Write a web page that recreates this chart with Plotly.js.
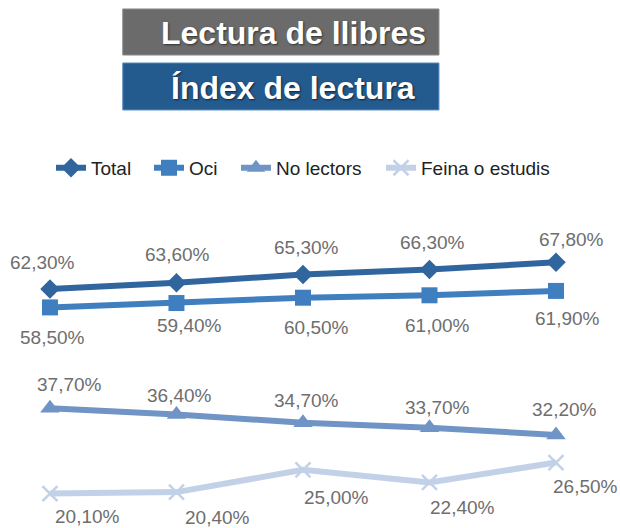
<!DOCTYPE html>
<html>
<head>
<meta charset="utf-8">
<script src="https://cdn.plot.ly/plotly-3.0.1.min.js"></script>
<style>html,body{margin:0;padding:0;background:#fff;}#chart{width:620px;height:528px;}</style>
</head>
<body>
<div id="chart"></div>
<script>
// Data
const periods = [0, 1, 2, 3, 4];
const seriesNames = ["Total", "Oci", "No lectors", "Feina o estudis"];
const total = [62.3, 63.6, 65.3, 66.3, 67.8];
const oci = [58.5, 59.4, 60.5, 61.0, 61.9];
const noLectors = [37.7, 36.4, 34.7, 33.7, 32.2];
const feina = [20.1, 20.4, 25.0, 22.4, 26.5];
const titleTop = "Lectura de llibres";
const titleBottom = "Índex de lectura";

// Styles
const colors = ["#31659d", "#3f7fc0", "#7094c6", "#c3d1e8"];
const symbols = ["diamond", "square", "triangle-up", "x-thin"];
const sizes = [15, 16, 17, 15];
// label nudges in pixels (dx, dy; dy positive = downwards)
const labelDx = [[-7, 1, 4, 3, 16], [3, 13, 14, 8, 12], [20, 3, 4, 8, 9], [38, 41, 34, 33, 30]];
const labelDy = [[-26, -28, -27, -27, -23], [30, 22, 30, 30, 28], [-24, -19, -22, -20, -25], [23, 25, 28, 25, 24]];
const legendIds = ['legend', 'legend2', 'legend3', 'legend4'];
const legendX = [0.0823, 0.2403, 0.3806, 0.6145];
const allSeries = [total, oci, noLectors, feina];

function fmt(v) { return v.toFixed(2).replace('.', ',') + '%'; }

const traces = allSeries.map((vals, i) => ({
  type: 'scatter', mode: 'lines+markers', name: seriesNames[i],
  x: periods, y: vals, legend: legendIds[i],
  line: {color: colors[i], width: 6},
  marker: {symbol: symbols[i], size: sizes[i], color: colors[i],
           line: {color: colors[i], width: i === 3 ? 2.5 : 0}},
  hoverinfo: 'skip'
}));

const annotations = [];
allSeries.forEach((vals, i) => {
  vals.forEach((v, j) => {
    annotations.push({
      x: periods[j], y: v, xref: 'x', yref: 'y', text: fmt(v), showarrow: false,
      xshift: labelDx[i][j], yshift: -labelDy[i][j],
      font: {family: 'Liberation Sans, Arial, sans-serif', size: 19, color: '#6e6e6e'}
    });
  });
});
annotations.push({
  xref: 'paper', yref: 'paper', x: 0.4726, y: 0.938, text: '<b>' + titleTop + '</b>',
  showarrow: false, xanchor: 'center', yanchor: 'middle',
  font: {family: 'Liberation Sans, Arial, sans-serif', size: 32, color: '#ffffff', shadow: '1px 1px 2px #333'}
});
annotations.push({
  xref: 'paper', yref: 'paper', x: 0.4726, y: 0.834, text: '<b>' + titleBottom + '</b>',
  showarrow: false, xanchor: 'center', yanchor: 'middle',
  font: {family: 'Liberation Sans, Arial, sans-serif', size: 32, color: '#ffffff', shadow: '1px 1px 2px #123'}
});

const layout = {
  width: 620, height: 528,
  margin: {l: 0, r: 0, t: 0, b: 0},
  paper_bgcolor: '#ffffff', plot_bgcolor: '#ffffff',
  xaxis: {range: [-0.395, 4.506], visible: false, fixedrange: true},
  yaxis: {range: [13.0, 77.56], domain: [0, 0.5928], visible: false, fixedrange: true},
  showlegend: true,
  shapes: [
    {type: 'rect', xref: 'paper', yref: 'paper', x0: 0.198, x1: 0.708, y0: 0.8958, y1: 0.983,
     fillcolor: '#6b6b6b', line: {color: '#8a8a8a', width: 1}, layer: 'below'},
    {type: 'rect', xref: 'paper', yref: 'paper', x0: 0.198, x1: 0.708, y0: 0.7917, y1: 0.8807,
     fillcolor: '#245b8f', line: {color: '#5b8cc0', width: 1}, layer: 'below'}
  ],
  annotations: annotations
};
legendIds.forEach((id, i) => {
  layout[id] = {orientation: 'h', x: legendX[i], y: 0.682, xanchor: 'left', yanchor: 'middle',
    font: {family: 'Liberation Sans, Arial, sans-serif', size: 19, color: '#222'},
    bgcolor: 'rgba(0,0,0,0)', itemclick: false, itemdoubleclick: false};
});

Plotly.newPlot('chart', traces, layout, {displayModeBar: false, staticPlot: true});
</script>
</body>
</html>
